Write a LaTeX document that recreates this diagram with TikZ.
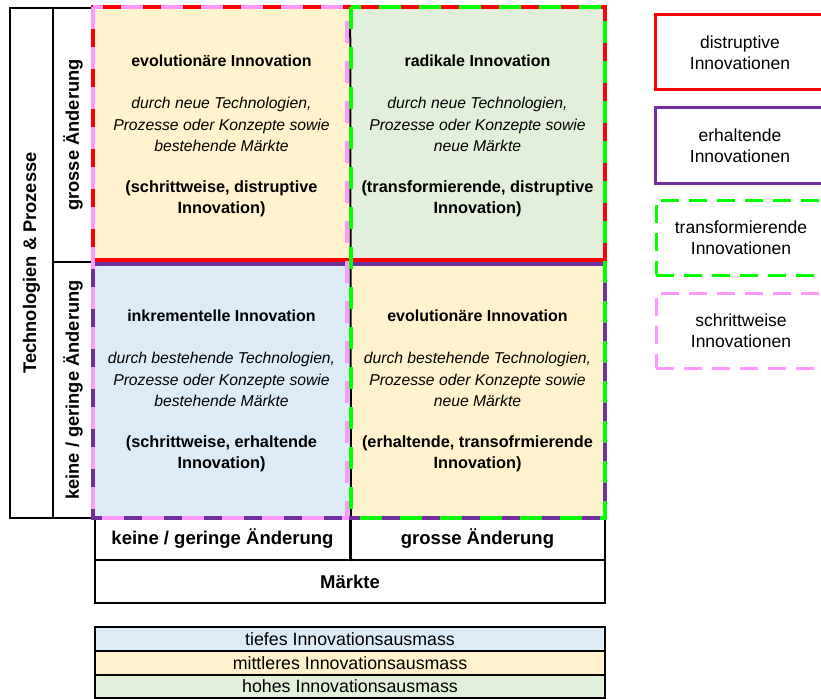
\documentclass[tikz,border=0pt]{standalone}
\usepackage{fontspec}
\setmainfont{Liberation Sans}
\definecolor{lblue}{HTML}{DDEBF7}
\definecolor{lorange}{HTML}{FFF2CC}
\definecolor{lgreen}{HTML}{E2EFDA}
\definecolor{cred}{HTML}{FF0000}
\definecolor{cpurple}{HTML}{7030A0}
\definecolor{cgreen}{HTML}{00FF00}
\definecolor{cpink}{HTML}{FF99FF}
\begin{document}
\begin{tikzpicture}[x=1pt,y=-1pt,
  blackbox/.style={draw=black, line width=2pt, inner sep=0pt, align=center},
  sidelabel/.style={blackbox, rotate=90, font=\bfseries\fontsize{18.3}{22}\selectfont},
  axislabel/.style={blackbox, font=\bfseries\fontsize{18.5}{22}\selectfont},
  legrow/.style={blackbox, font=\fontsize{17.8}{20}\selectfont},
  cell/.style={inner sep=0pt, minimum width=257pt},
  qtitle/.style={inner sep=0pt, align=center, font=\bfseries\fontsize{16}{21.3}\selectfont},
  qital/.style={inner sep=0pt, align=center, font=\itshape\fontsize{15.7}{21.3}\selectfont},
  qbold/.style={inner sep=0pt, align=center, font=\bfseries\fontsize{16.3}{21.3}\selectfont},
  thick frame/.style={line width=4pt},
  qdash/.style={line width=4pt, dash pattern=on 22pt off 18pt},
  legbox/.style={inner sep=0pt, minimum width=170pt, minimum height=75pt, align=center,
    font=\fontsize{17.5}{21.5}\selectfont},
  legdash/.style={line width=3pt, dash pattern=on 18pt off 10pt}
]
\useasboundingbox (0,0) rectangle (821,698);

% quadrant fills
\node[cell, fill=lorange, minimum height=255pt] (q1) at (221.5,134.5) {};
\node[cell, fill=lgreen, minimum width=255pt, minimum height=255pt] (q2) at (477.5,134.5) {};
\node[cell, fill=lblue, minimum height=256pt] (q3) at (221.5,390) {};
\node[cell, fill=lorange, minimum width=255pt, minimum height=256pt] (q4) at (477.5,390) {};

% left axis
\node[sidelabel, minimum width=510pt, minimum height=43pt] (tp) at (31.5,263) {Technologien \& Prozesse};
\node[sidelabel, minimum width=254pt, minimum height=40pt] (tbig) at (73,135) {grosse Änderung};
\node[sidelabel, minimum width=256pt, minimum height=40pt] (tsmall) at (73,390) {keine / geringe Änderung};

% bottom axis
\node[axislabel, minimum width=255pt, minimum height=42pt] (msmall) at (222.5,539) {keine / geringe Änderung};
\node[axislabel, minimum width=255pt, minimum height=42pt] (mbig) at (477.5,539) {grosse Änderung};
\node[axislabel, minimum width=510pt, minimum height=43pt] (m) at (350,581.5) {Märkte};

% middle black divider
\draw[line width=2pt] (q1.north east) -- (msmall.south east);

% coloured frames
\draw[cred, thick frame] (93,7) rectangle (605,260);
\draw[cpurple, thick frame] (93,264) rectangle (605,518);
\draw[cpink, qdash] (93,7) rectangle (347,518);
\draw[cgreen, qdash] (351,7) rectangle (605,518);

% quadrant texts
\node[qtitle] (t1) at (221.5,61) {evolutionäre Innovation};
\node[qital] (i1) at (221.5,124.5) {durch neue Technologien,\\Prozesse oder Konzepte sowie\\bestehende Märkte};
\node[qbold] (b1) at (221.5,199) {(schrittweise, distruptive\\Innovation)};

\node[qtitle] (t2) at (477.5,61) {radikale Innovation};
\node[qital] (i2) at (477.5,124.5) {durch neue Technologien,\\Prozesse oder Konzepte sowie\\neue Märkte};
\node[qbold] (b2) at (477.5,199) {(transformierende, distruptive\\Innovation)};

\node[qtitle] (t3) at (221.5,316) {inkrementelle Innovation};
\node[qital] (i3) at (221.5,379.5) {durch bestehende Technologien,\\Prozesse oder Konzepte sowie\\bestehende Märkte};
\node[qbold] (b3) at (221.5,454) {(schrittweise, erhaltende\\Innovation)};

\node[qtitle] (t4) at (477.5,316) {evolutionäre Innovation};
\node[qital] (i4) at (477.5,379.5) {durch bestehende Technologien,\\Prozesse oder Konzepte sowie\\neue Märkte};
\node[qbold] (b4) at (477.5,454) {(erhaltende, transofrmierende\\Innovation)};

% bottom legend
\node[legrow, fill=lblue, minimum width=510pt, minimum height=24pt] (l1) at (350,639) {tiefes Innovationsausmass};
\node[legrow, fill=lorange, minimum width=510pt, minimum height=24pt] (l2) at (350,663) {mittleres Innovationsausmass};
\node[legrow, fill=lgreen, minimum width=510pt, minimum height=23pt] (l3) at (350,686.5) {hohes Innovationsausmass};

% right legend
\node[legbox, draw=cred, line width=3pt] (r1) at (740,52.5) {distruptive\\Innovationen};
\node[legbox, draw=cpurple, line width=3pt] (r2) at (740,145.5) {erhaltende\\Innovationen};
\node[legbox, draw=cgreen, legdash] (r3) at (741,237.5) {transformierende\\Innovationen};
\node[legbox, draw=cpink, legdash] (r4) at (741,330.5) {schrittweise\\Innovationen};
\end{tikzpicture}
\end{document}
